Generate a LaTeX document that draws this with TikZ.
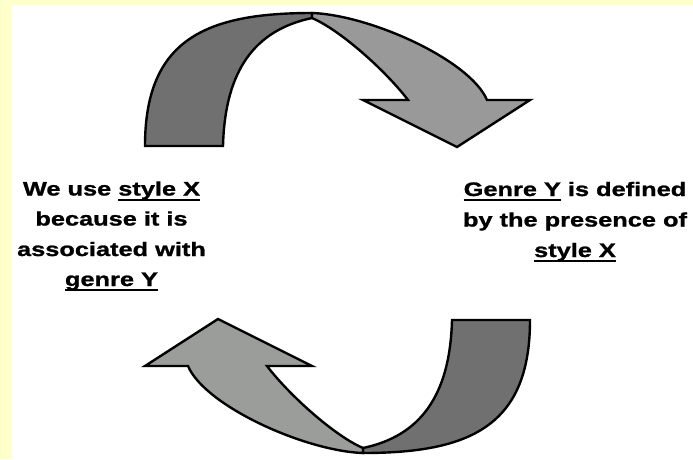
\documentclass[tikz,border=0pt]{standalone}
\usepackage{fontspec}
\newfontfamily\wfont[FakeStretch=1.3,FakeBold=1.2]{Liberation Sans}
\newcommand\myul[1]{\setbox0\hbox{#1}\rlap{\rule[-5pt]{\wd0}{1.8pt}}\box0\relax}
\definecolor{yellowbg}{HTML}{FFFFCC}
\definecolor{bandDark}{RGB}{112,112,112}
\definecolor{bandLight}{RGB}{153,153,153}
\definecolor{bandLightB}{RGB}{154,157,154}
\begin{document}
\begin{tikzpicture}[x=1pt,y=-1pt,
  band/.style={draw=black,line width=2.4pt,line join=miter},
  lbl/.style={anchor=base,inner sep=0pt,font=\wfont\bfseries\fontsize{19.5}{23}\selectfont},
  curvedarrow/.pic={
    \path[band,fill=bandDark] (145,146) .. controls (145,40) and (205,13) .. (312,13)
      -- (312,18) .. controls (255,30) and (225,70) .. (223,146) -- cycle;
    \path[band,fill=#1] (312,13) .. controls (370,15) and (470,60) .. (487,100)
      -- (530,100) -- (457,147) -- (363,100) -- (408,100)
      .. controls (385,70) and (340,30) .. (312,18) -- cycle;
  }]
\useasboundingbox (0,0) rectangle (693,459);
\fill[white] (0,0) rectangle (693,459);
\fill[yellowbg] (0,0) rectangle (12,459);
\fill[yellowbg] (0,0) rectangle (693,5);
% arrows
\pic at (0,0) {curvedarrow=bandLight};
\pic[rotate=180] at (675,466) {curvedarrow=bandLightB};
% left text
\node[lbl] (l1) at (111.5,195.5) {We use \myul{style X}};
\node[lbl] (l2) at (111.5,225.5) {because it is};
\node[lbl] (l3) at (111.5,256) {associated with};
\node[lbl] (l4) at (111.5,286) {\myul{genre Y}};
% right text
\node[lbl] (r1) at (575,196) {\myul{Genre Y} is defined};
\node[lbl] (r2) at (575,226.5) {by the presence of};
\node[lbl] (r3) at (575,257) {\myul{style X}};
\end{tikzpicture}
\end{document}
